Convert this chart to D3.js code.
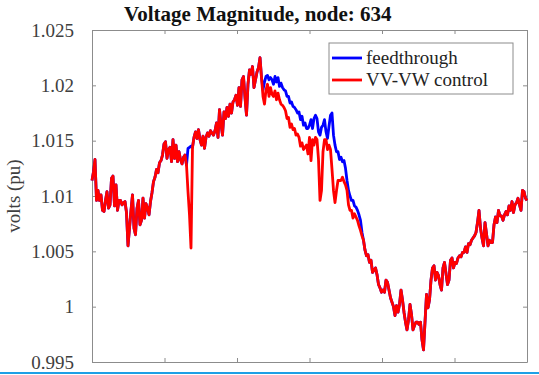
<!DOCTYPE html>
<html>
<head>
<meta charset="utf-8">
<script src="https://cdn.jsdelivr.net/npm/d3@7"></script>
<style>
  body { margin: 0; background: #fff; }
  .axis path, .axis line { stroke: #8c8c8c; }
</style>
</head>
<body>
<div id="chart"></div>
<script>
// Voltage magnitude at node 634 over one day (per-unit)

const titleText = "Voltage Magnitude, node: 634";
const yLabel = "volts (pu)";
const seriesNames = ["feedthrough", "VV-VW control"];
const seriesColors = ["#0000ff", "#ff0000"];
const yTicks = [0.995, 1, 1.005, 1.01, 1.015, 1.02, 1.025];
const xTicks = [0, 4, 8, 12, 16, 20, 24];
const serif = "'Liberation Serif', 'Times New Roman', Times, serif";

// VV-VW control (red)
const vvvwValues = [
  1.0114, 1.0122, 1.0133, 1.0096, 1.0105, 1.0096, 1.0101, 1.0087, 1.0086, 1.0096,
  1.0104, 1.0089, 1.0092, 1.0116, 1.0118, 1.0091, 1.0110, 1.0087, 1.0096, 1.0096,
  1.0092, 1.0094, 1.0095, 1.0085, 1.0055, 1.0071, 1.0087, 1.0101, 1.0071, 1.0065,
  1.0089, 1.0096, 1.0074, 1.0078, 1.0098, 1.0080, 1.0093, 1.0089, 1.0083, 1.0095,
  1.0103, 1.0113, 1.0117, 1.0124, 1.0121, 1.0130, 1.0132, 1.0137, 1.0147, 1.0149,
  1.0134, 1.0142, 1.0144, 1.0131, 1.0151, 1.0134, 1.0146, 1.0131, 1.0140, 1.0133,
  1.0129, 1.0135, 1.0137, 1.0128, 1.0104, 1.0083, 1.0053, 1.0144, 1.0153, 1.0158,
  1.0152, 1.0160, 1.0151, 1.0146, 1.0154, 1.0143, 1.0153, 1.0157, 1.0154, 1.0159,
  1.0157, 1.0155, 1.0159, 1.0166, 1.0153, 1.0178, 1.0165, 1.0155, 1.0176, 1.0170,
  1.0180, 1.0172, 1.0183, 1.0175, 1.0185, 1.0187, 1.0191, 1.0182, 1.0198, 1.0181,
  1.0205, 1.0208, 1.0189, 1.0173, 1.0201, 1.0214, 1.0210, 1.0217, 1.0198, 1.0205,
  1.0212, 1.0216, 1.0225, 1.0207, 1.0190, 1.0183, 1.0196, 1.0201, 1.0190, 1.0198,
  1.0192, 1.0190, 1.0195, 1.0187, 1.0193, 1.0187, 1.0183, 1.0182, 1.0180, 1.0177,
  1.0170, 1.0171, 1.0162, 1.0165, 1.0160, 1.0161, 1.0155, 1.0156, 1.0153, 1.0145,
  1.0148, 1.0142, 1.0144, 1.0146, 1.0138, 1.0153, 1.0132, 1.0151, 1.0146, 1.0153,
  1.0151, 1.0133, 1.0096, 1.0105, 1.0140, 1.0151, 1.0151, 1.0142, 1.0146, 1.0142,
  1.0124, 1.0105, 1.0094, 1.0105, 1.0114, 1.0114, 1.0114, 1.0117, 1.0113, 1.0110,
  1.0105, 1.0092, 1.0087, 1.0087, 1.0080, 1.0084, 1.0081, 1.0078, 1.0073, 1.0069,
  1.0064, 1.0060, 1.0051, 1.0046, 1.0047, 1.0040, 1.0042, 1.0031, 1.0033, 1.0035,
  1.0029, 1.0020, 1.0017, 1.0013, 1.0015, 1.0013, 1.0024, 1.0022, 1.0015, 1.0008,
  1.0004, 1.0000, 0.9992, 1.0001, 0.9995, 1.0002, 1.0015, 1.0006, 0.9995, 0.9986,
  0.9979, 0.9988, 1.0002, 0.9993, 0.9979, 0.9983, 0.9986, 0.9986, 0.9984, 0.9986,
  0.9970, 0.9961, 0.9986, 1.0011, 0.9999, 1.0006, 1.0024, 1.0035, 1.0037, 1.0024,
  1.0031, 1.0028, 1.0020, 1.0015, 1.0035, 1.0040, 1.0030, 1.0020, 1.0024, 1.0042,
  1.0044, 1.0035, 1.0040, 1.0039, 1.0044, 1.0046, 1.0045, 1.0049, 1.0049, 1.0054,
  1.0049, 1.0057, 1.0056, 1.0060, 1.0062, 1.0064, 1.0067, 1.0076, 1.0087, 1.0071,
  1.0062, 1.0055, 1.0076, 1.0066, 1.0055, 1.0060, 1.0058, 1.0058, 1.0074, 1.0081,
  1.0076, 1.0087, 1.0082, 1.0082, 1.0078, 1.0083, 1.0086, 1.0083, 1.0091, 1.0087,
  1.0095, 1.0085, 1.0092, 1.0094, 1.0098, 1.0092, 1.0087, 1.0105, 1.0104, 1.0098,
  1.0096
];

// feedthrough (blue)
const feedthroughValues = [
  1.0114, 1.0122, 1.0133, 1.0096, 1.0105, 1.0096, 1.0101, 1.0087, 1.0086, 1.0096,
  1.0104, 1.0089, 1.0092, 1.0116, 1.0118, 1.0091, 1.0110, 1.0087, 1.0096, 1.0096,
  1.0092, 1.0094, 1.0095, 1.0085, 1.0055, 1.0071, 1.0087, 1.0101, 1.0071, 1.0065,
  1.0089, 1.0096, 1.0074, 1.0078, 1.0098, 1.0080, 1.0093, 1.0089, 1.0083, 1.0095,
  1.0103, 1.0113, 1.0117, 1.0124, 1.0121, 1.0130, 1.0132, 1.0137, 1.0147, 1.0149,
  1.0134, 1.0142, 1.0144, 1.0131, 1.0151, 1.0134, 1.0146, 1.0131, 1.0140, 1.0133,
  1.0129, 1.0135, 1.0137, 1.0128, 1.0143, 1.0144, 1.0145, 1.0144, 1.0153, 1.0158,
  1.0152, 1.0160, 1.0151, 1.0146, 1.0154, 1.0143, 1.0153, 1.0157, 1.0154, 1.0159,
  1.0157, 1.0155, 1.0159, 1.0166, 1.0153, 1.0178, 1.0165, 1.0155, 1.0176, 1.0170,
  1.0180, 1.0172, 1.0183, 1.0175, 1.0185, 1.0187, 1.0191, 1.0182, 1.0198, 1.0181,
  1.0205, 1.0208, 1.0189, 1.0173, 1.0201, 1.0214, 1.0210, 1.0217, 1.0198, 1.0205,
  1.0212, 1.0216, 1.0225, 1.0207, 1.0196, 1.0203, 1.0208, 1.0209, 1.0205, 1.0207,
  1.0205, 1.0201, 1.0208, 1.0203, 1.0207, 1.0199, 1.0202, 1.0198, 1.0196, 1.0195,
  1.0190, 1.0190, 1.0184, 1.0185, 1.0181, 1.0180, 1.0178, 1.0175, 1.0176, 1.0169,
  1.0172, 1.0164, 1.0166, 1.0161, 1.0161, 1.0164, 1.0169, 1.0161, 1.0170, 1.0173,
  1.0170, 1.0158, 1.0155, 1.0162, 1.0164, 1.0169, 1.0158, 1.0152, 1.0163, 1.0173,
  1.0175, 1.0155, 1.0146, 1.0140, 1.0140, 1.0133, 1.0135, 1.0131, 1.0132, 1.0125,
  1.0114, 1.0105, 1.0100, 1.0096, 1.0096, 1.0091, 1.0090, 1.0087, 1.0083, 1.0078,
  1.0067, 1.0060, 1.0051, 1.0046, 1.0047, 1.0040, 1.0042, 1.0031, 1.0033, 1.0035,
  1.0029, 1.0020, 1.0017, 1.0013, 1.0015, 1.0013, 1.0024, 1.0022, 1.0015, 1.0008,
  1.0004, 1.0000, 0.9992, 1.0001, 0.9995, 1.0002, 1.0015, 1.0006, 0.9995, 0.9986,
  0.9979, 0.9988, 1.0002, 0.9993, 0.9979, 0.9983, 0.9986, 0.9986, 0.9984, 0.9986,
  0.9970, 0.9961, 0.9986, 1.0011, 0.9999, 1.0006, 1.0024, 1.0035, 1.0037, 1.0024,
  1.0031, 1.0028, 1.0020, 1.0015, 1.0035, 1.0040, 1.0030, 1.0020, 1.0024, 1.0042,
  1.0044, 1.0035, 1.0040, 1.0039, 1.0044, 1.0046, 1.0045, 1.0049, 1.0049, 1.0054,
  1.0049, 1.0057, 1.0056, 1.0060, 1.0062, 1.0064, 1.0067, 1.0076, 1.0087, 1.0071,
  1.0062, 1.0055, 1.0076, 1.0066, 1.0055, 1.0060, 1.0058, 1.0058, 1.0074, 1.0081,
  1.0076, 1.0087, 1.0082, 1.0082, 1.0078, 1.0083, 1.0086, 1.0083, 1.0091, 1.0087,
  1.0095, 1.0085, 1.0092, 1.0094, 1.0098, 1.0092, 1.0087, 1.0105, 1.0104, 1.0098,
  1.0096
];

const width = 539, height = 375;
const margin = { top: 30, right: 12, bottom: 13, left: 92 };
const innerW = width - margin.left - margin.right;
const innerH = height - margin.top - margin.bottom;

// sample times, evenly spaced over the day
const hours = vvvwValues.map((d, i) => i * 24 / (vvvwValues.length - 1));

const svg = d3.select("#chart")
  .append("svg")
  .attr("width", width)
  .attr("height", height);

const innerChart = svg.append("g")
  .attr("transform", `translate(${margin.left}, ${margin.top})`);

const xScale = d3.scaleLinear().domain([0, 24]).range([0, innerW]);
const yScale = d3.scaleLinear().domain([0.995, 1.025]).range([innerH, 0]);

// axes on all four sides, ticks pointing inward
const yAxis = innerChart.append("g")
  .attr("class", "axis")
  .call(d3.axisLeft(yScale).tickValues(yTicks).tickSizeInner(-4).tickSizeOuter(0)
    .tickPadding(18).tickFormat(d3.format("")));

yAxis.selectAll(".tick text")
  .attr("dy", "0.33em")
  .attr("fill", "#404040")
  .style("font-family", serif)
  .style("font-size", "19px");

innerChart.append("g")
  .attr("class", "axis")
  .attr("transform", `translate(${innerW}, 0)`)
  .call(d3.axisRight(yScale).tickValues(yTicks).tickSizeInner(-4).tickSizeOuter(0)
    .tickFormat(""));

innerChart.append("g")
  .attr("class", "axis")
  .attr("transform", `translate(0, ${innerH})`)
  .call(d3.axisBottom(xScale).tickValues(xTicks).tickSizeInner(-4).tickSizeOuter(0)
    .tickFormat(""));

innerChart.append("g")
  .attr("class", "axis")
  .call(d3.axisTop(xScale).tickValues(xTicks).tickSizeInner(-4).tickSizeOuter(0)
    .tickFormat(""));

// lines: feedthrough under, control on top
const line = d3.line()
  .x((d, i) => xScale(hours[i]))
  .y(d => yScale(d));

[feedthroughValues, vvvwValues].forEach((vals, k) => {
  innerChart.append("path")
    .datum(vals)
    .attr("fill", "none")
    .attr("stroke", seriesColors[k])
    .attr("stroke-width", 2.8)
    .attr("stroke-linejoin", "round")
    .attr("d", line);
});

// Y axis label
svg.append("text")
  .attr("transform", "rotate(-90)")
  .attr("x", -(margin.top + innerH / 2))
  .attr("y", 20)
  .attr("text-anchor", "middle")
  .attr("fill", "#404040")
  .style("font-family", serif)
  .style("font-size", "19px")
  .text(yLabel);

// Title
svg.append("text")
  .attr("x", 124)
  .attr("y", 21)
  .style("font-family", serif)
  .style("font-size", "21px")
  .style("font-weight", "bold")
  .attr("fill", "#111")
  .text(titleText);

// Legend
const legend = svg.append("g").attr("transform", "translate(329, 43)");
legend.append("rect")
  .attr("width", 184)
  .attr("height", 51)
  .attr("fill", "#fff")
  .attr("stroke", "#8c8c8c");
seriesNames.forEach((name, k) => {
  const y = 15 + k * 22;
  legend.append("line")
    .attr("x1", 3).attr("x2", 33)
    .attr("y1", y).attr("y2", y)
    .attr("stroke", seriesColors[k])
    .attr("stroke-width", 2.8);
  legend.append("text")
    .attr("x", 37)
    .attr("y", y)
    .attr("dy", "0.33em")
    .attr("fill", "#222")
    .style("font-family", serif)
    .style("font-size", "19px")
    .text(name);
});

// blue rule along the bottom edge of the picture
svg.append("line")
  .attr("x1", 0).attr("x2", width)
  .attr("y1", 373).attr("y2", 373)
  .attr("stroke", "#1ea0e6")
  .attr("stroke-width", 2);
</script>
</body>
</html>
